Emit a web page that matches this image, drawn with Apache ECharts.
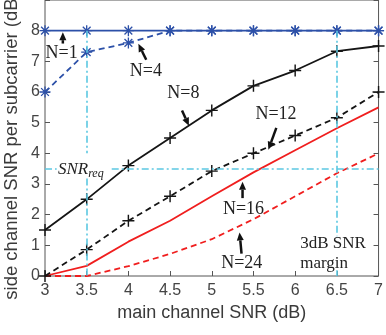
<!DOCTYPE html>
<html>
<head>
<meta charset="utf-8">
<script src="https://cdn.jsdelivr.net/npm/echarts@6/dist/echarts.min.js"></script>
<style>
  html, body { margin: 0; padding: 0; background: #fff; }
  #main { width: 386px; height: 335px; }
</style>
</head>
<body>
<div id="main"></div>
<script>
// main channel SNR (dB)
const snrMain = [3, 3.5, 4, 4.5, 5, 5.5, 6, 6.5, 7];
const xTicks = [3, 3.5, 4, 4.5, 5, 5.5, 6, 6.5, 7];
const yTicks = [0, 1, 2, 3, 4, 5, 6, 7, 8];

// side channel SNR per subcarrier (dB)
const n1  = [8, 8, 8, 8, 8, 8, 8, 8, 8];
const n4  = [6, 7.3, 7.6, 8, 8, 8, 8, 8, 8];
const n8  = [1.5, 2.5, 3.6, 4.5, 5.4, 6.2, 6.7, 7.33, 7.5];
const n12 = [0, 0.86, 1.8, 2.6, 3.42, 4.0, 4.58, 5.16, 6.0];
const n16 = [0, 0.33, 1.12, 1.8, 2.6, 3.38, 4.1, 4.82, 5.5];
const n24 = [0, 0, 0.32, 0.72, 1.2, 1.85, 2.6, 3.35, 4.0];

// reference lines (SNR_req and the 3dB margin)
const snrReq = 3.5;
const reqX = 3.5;
const marginX = 6.5;

// annotations: [text, x, y] and arrows [tailX, tailY, tipX, tipY]
const labels = [
  ['N=1', 3.20, 7.27], ['N=4', 4.21, 6.67], ['N=8', 4.66, 5.97],
  ['N=12', 5.77, 5.27], ['N=16', 5.38, 2.19], ['N=24', 5.36, 0.41]
];
const arrows = [
  [3.214, 7.58, 3.214, 7.95], [4.214, 7.05, 4.12, 7.57],
  [4.643, 5.40, 4.726, 4.90], [5.774, 4.83, 5.679, 4.12],
  [5.369, 2.54, 5.369, 3.07], [5.357, 0.73, 5.333, 1.42]
];

const blue = '#2c50a8', red = '#f01e1e', black = '#151515', cyan = '#5cc8e2';
const serif = '"Liberation Serif", "DejaVu Serif", serif';
const sans = '"Liberation Sans", Arial, sans-serif';

const starPath = 'path://M0,4.4H10V5.6H0Z M4.4,0H5.6V10H4.4Z M1.88,1.04L8.96,8.12L8.12,8.96L1.04,1.88Z M1.04,8.12L8.12,1.04L8.96,1.88L1.88,8.96Z';
const plusPath = 'path://M0,4.4H10V5.6H0Z M4.4,0H5.6V10H4.4Z';

const pairs = ys => snrMain.map((x, i) => [x, ys[i]]);

const chart = echarts.init(document.getElementById('main'), null, { renderer: 'canvas' });

function curve(name, ys, color, dashed, symbol, size) {
  return {
    name: name, type: 'line', data: pairs(ys),
    symbol: symbol || 'none', symbolSize: size || 0, showSymbol: !!symbol,
    lineStyle: { color: color, width: 1.8, type: dashed ? [6, 4] : 'solid' },
    itemStyle: { color: color },
    silent: true, animation: false, z: 3
  };
}

const dashDot = { color: cyan, width: 1.6, type: [7, 3, 2, 3] };
const refLines = {
  type: 'line', data: [], silent: true, animation: false,
  markLine: {
    symbol: 'none', silent: true, animation: false,
    label: { show: false }, lineStyle: dashDot,
    data: [
      [{ coord: [3, snrReq] }, { coord: [3.14, snrReq] }],
      [{ coord: [3.8, snrReq] }, { coord: [7, snrReq] }],
      [{ coord: [reqX, 8] }, { coord: [reqX, 4.0] }],
      [{ coord: [reqX, 3.18] }, { coord: [reqX, 0] }],
      [{ coord: [marginX, 8] }, { coord: [marginX, 1.3] }],
      [{ coord: [marginX, 0.19] }, { coord: [marginX, 0] }]
    ]
  },
  z: 2
};

const axisColor = '#555';
const option = {
  backgroundColor: '#fff',
  animation: false,
  grid: { left: 45, right: 4, top: -7.5, bottom: 59, show: true, borderColor: axisColor, borderWidth: 1, backgroundColor: 'transparent' },
  xAxis: {
    type: 'value', min: 3, max: 7, interval: 0.5,
    name: 'main channel SNR (dB)', nameLocation: 'middle', nameGap: 27,
    nameTextStyle: { fontFamily: sans, fontSize: 18, color: '#3a3a3a' },
    axisLine: { show: false },
    axisTick: { show: true, inside: true, length: 5, lineStyle: { color: axisColor } },
    axisLabel: { fontFamily: sans, fontSize: 16, color: '#444', margin: 7,
      formatter: v => xTicks.includes(v) ? String(v) : '' },
    splitLine: { show: false }
  },
  yAxis: [{
    type: 'value', min: 0, max: 9, interval: 1,
    axisLine: { show: false },
    axisTick: { show: true, inside: true, length: 5, lineStyle: { color: axisColor } },
    axisLabel: { fontFamily: sans, fontSize: 16, color: '#444', margin: 5,
      formatter: v => yTicks.includes(v) ? String(v) : '' },
    splitLine: { show: false }
  }, {
    type: 'value', min: 0, max: 9, interval: 1, position: 'right',
    axisLine: { show: false },
    axisTick: { show: true, inside: true, length: 5, lineStyle: { color: axisColor } },
    axisLabel: { show: false }, splitLine: { show: false }
  }],
  series: [
    refLines,
    curve('N=24', n24, red, true),
    curve('N=16', n16, red, false),
    curve('N=12', n12, black, true, plusPath, 12),
    curve('N=8', n8, black, false, plusPath, 12),
    curve('N=4', n4, blue, true, starPath, 11),
    curve('N=1', n1, blue, false, starPath, 11)
  ]
};
chart.setOption(option);

// annotations placed through the chart's own scales
const toPx = (x, y) => chart.convertToPixel({ gridIndex: 0 }, [x, y]);
const graphics = [];

labels.forEach(([t, x, y]) => {
  const p = toPx(x, y);
  graphics.push({ type: 'text', x: p[0], y: p[1], z: 10,
    style: { text: t, fontFamily: serif, fontSize: 18, fill: '#222', align: 'center', verticalAlign: 'middle' } });
});

arrows.forEach(([tx, ty, hx, hy]) => {
  const a = toPx(tx, ty), b = toPx(hx, hy);
  const dx = b[0] - a[0], dy = b[1] - a[1], len = Math.hypot(dx, dy);
  const ux = dx / len, uy = dy / len, hl = 8, hw = 3.5;
  const bx = b[0] - ux * hl, by = b[1] - uy * hl;
  graphics.push({ type: 'line', z: 10, shape: { x1: a[0], y1: a[1], x2: bx, y2: by },
    style: { stroke: '#111', lineWidth: 2.5 } });
  graphics.push({ type: 'polygon', z: 10,
    shape: { points: [[b[0], b[1]], [bx - uy * hw, by + ux * hw], [bx + uy * hw, by - ux * hw]] },
    style: { fill: '#111' } });
});

const pReq = toPx(3.155, snrReq);
graphics.push({ type: 'text', x: pReq[0], y: pReq[1] + 1, z: 10,
  style: {
    text: '{a|SNR}{b|req}', verticalAlign: 'middle', align: 'left',
    rich: {
      a: { fontFamily: serif, fontStyle: 'italic', fontSize: 17, fill: '#222', letterSpacing: 2.5 },
      b: { fontFamily: serif, fontStyle: 'italic', fontSize: 12, fill: '#222', padding: [8, 0, 0, 0] }
    }
  } });

const pM1 = toPx(6.06, 1.05), pM2 = toPx(6.06, 0.41);
graphics.push({ type: 'text', x: pM1[0], y: pM1[1], z: 10,
  style: { text: '3dB SNR', fontFamily: serif, fontSize: 17, fill: '#222', align: 'left', verticalAlign: 'middle' } });
graphics.push({ type: 'text', x: pM2[0], y: pM2[1], z: 10,
  style: { text: 'margin', fontFamily: serif, fontSize: 17, fill: '#222', align: 'left', verticalAlign: 'middle' } });

// y-axis title, rotated, slightly below the axis middle as in the figure
graphics.push({ type: 'text', x: 12, y: 146, rotation: Math.PI / 2, z: 10,
  style: { text: 'side channel SNR per subcarrier (dB)', fontFamily: sans, fontSize: 18.5, fill: '#3a3a3a', align: 'center', verticalAlign: 'middle' } });

chart.setOption({ graphic: graphics });
</script>
</body>
</html>
